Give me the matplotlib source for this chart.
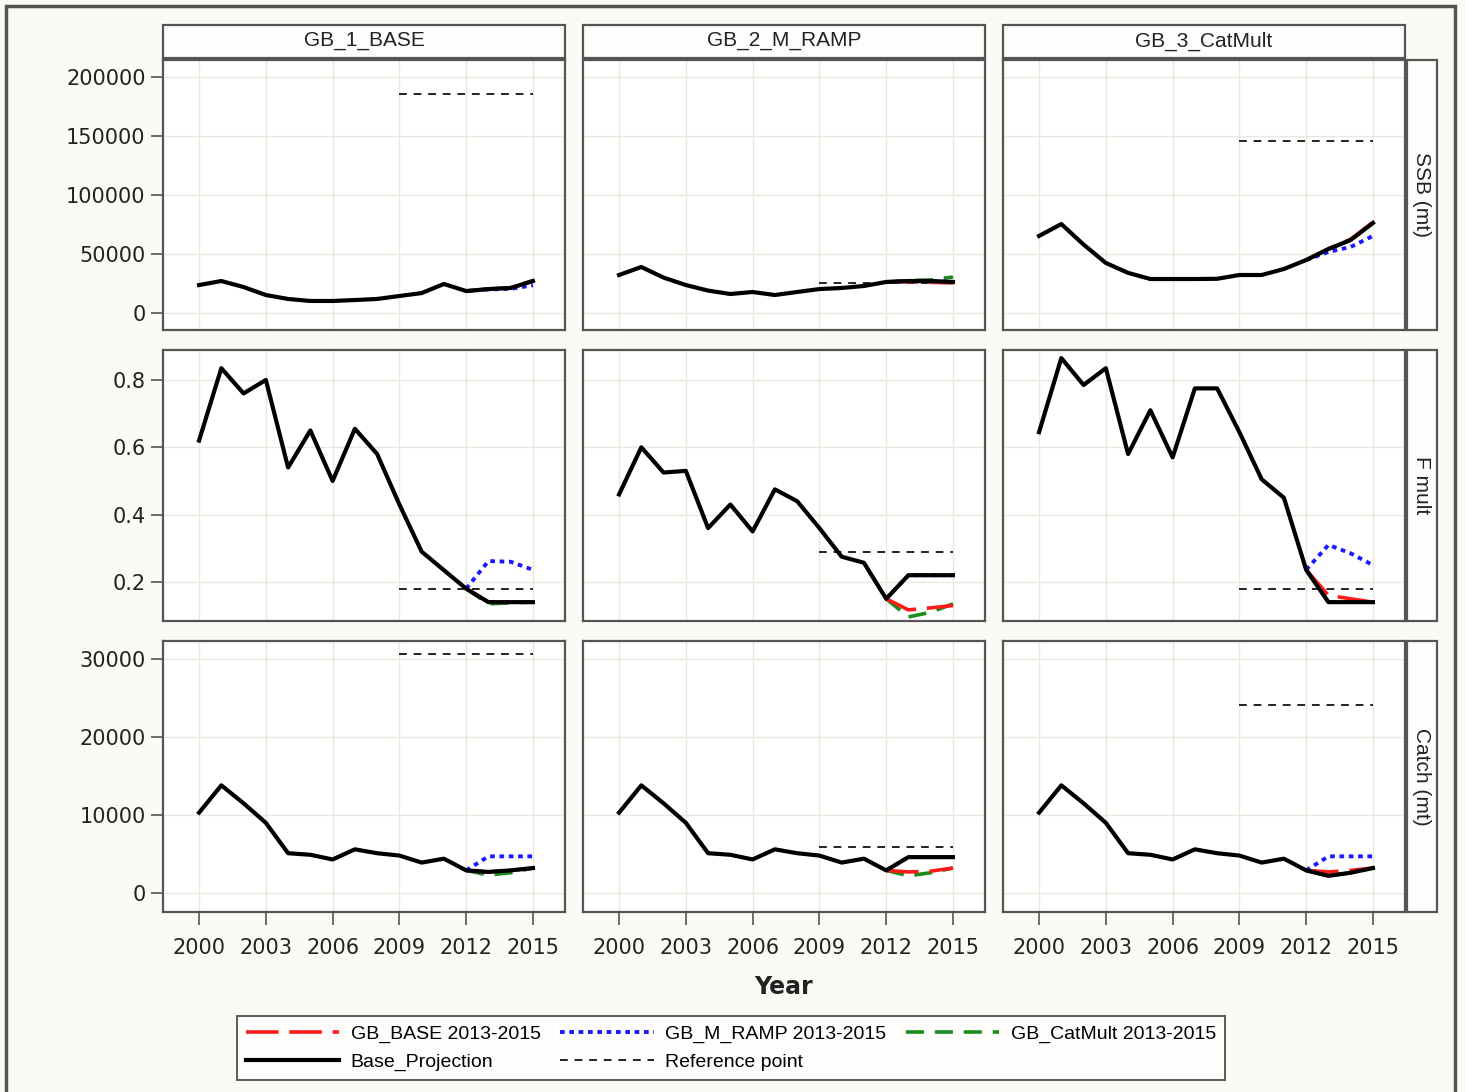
#!/usr/bin/env python3
""" Faceted SSB / F mult / Catch projections for the GB scenarios """

import matplotlib
matplotlib.use('Agg')
import matplotlib.pyplot as plt
from matplotlib.lines import Line2D
from matplotlib.patches import Rectangle

years = list(range(2000, 2016))
proj_years = [2012, 2013, 2014, 2015]
ref_years = [2009, 2015]

scenarios = ['GB_1_BASE', 'GB_2_M_RAMP', 'GB_3_CatMult']
row_labels = ['SSB (mt)', 'F mult', 'Catch (mt)']

# SSB (mt)
ssb_base = [
    [23700, 27100, 22000, 15250, 11900, 10200, 10200, 11000, 11900, 14400,
     16900, 24600, 18600, 20300, 21200, 27100],
    [32200, 39000, 30000, 23700, 19000, 16100, 17800, 15250, 17800, 20300,
     21200, 22900, 26300, 27100, 27100, 26300],
    [65300, 75400, 58000, 42400, 34000, 28800, 28800, 28800, 29000, 32200,
     32200, 37300, 44900, 54200, 61900, 76300],
]
ssb_red = [[18600, 20300, 21200, 27100], [26300, 26500, 26000, 25500],
           [44900, 54500, 62500, 77000]]
ssb_blue = [[18600, 20000, 20500, 23500], [26300, 27100, 27100, 26300],
            [44900, 51700, 56000, 65300]]
ssb_green = [[18600, 20300, 21500, 27500], [26300, 27500, 28000, 30500],
             [44900, 54200, 61900, 76300]]
ssb_ref = [185600, 25400, 145800]

# F mult
f_base = [
    [0.62, 0.835, 0.76, 0.80, 0.54, 0.65, 0.50, 0.655, 0.58, 0.43,
     0.29, 0.235, 0.18, 0.14, 0.14, 0.14],
    [0.46, 0.60, 0.525, 0.53, 0.36, 0.43, 0.35, 0.475, 0.44, 0.36,
     0.275, 0.257, 0.15, 0.22, 0.22, 0.22],
    [0.645, 0.865, 0.785, 0.835, 0.58, 0.71, 0.57, 0.775, 0.775, 0.645,
     0.505, 0.45, 0.236, 0.14, 0.14, 0.14],
]
f_red = [[0.18, 0.14, 0.14, 0.14], [0.15, 0.117, 0.123, 0.13],
         [0.236, 0.16, 0.15, 0.14]]
f_blue = [[0.18, 0.262, 0.26, 0.236], [0.15, 0.22, 0.22, 0.22],
          [0.236, 0.31, 0.285, 0.25]]
f_green = [[0.18, 0.135, 0.138, 0.14], [0.15, 0.096, 0.11, 0.135],
           [0.236, 0.14, 0.14, 0.14]]
f_ref = [0.18, 0.29, 0.18]

# Catch (mt)
catch_base = [
    [10300, 13800, 11500, 9000, 5100, 4900, 4300, 5600, 5100, 4800,
     3900, 4400, 2900, 2700, 2900, 3200],
    [10300, 13800, 11500, 9000, 5100, 4900, 4300, 5600, 5100, 4800,
     3900, 4400, 2900, 4600, 4600, 4600],
    [10300, 13800, 11500, 9000, 5100, 4900, 4300, 5600, 5100, 4800,
     3900, 4400, 2900, 2200, 2600, 3200],
]
catch_red = [[2900, 2700, 2900, 3200], [2900, 2700, 2800, 3200],
             [2900, 2700, 2900, 3200]]
catch_blue = [[2900, 4700, 4700, 4700], [2900, 4600, 4600, 4600],
              [2900, 4700, 4700, 4700]]
catch_green = [[2900, 2300, 2600, 3200], [2900, 2200, 2600, 3200],
               [2900, 2200, 2600, 3200]]
catch_ref = [30600, 5900, 24100]

rows = [
    (ssb_base, ssb_red, ssb_blue, ssb_green, ssb_ref,
     [0, 50000, 100000, 150000, 200000], (-14400, 214400)),
    (f_base, f_red, f_blue, f_green, f_ref,
     [0.2, 0.4, 0.6, 0.8], (0.084, 0.889)),
    (catch_base, catch_red, catch_blue, catch_green, catch_ref,
     [0, 10000, 20000, 30000], (-2436, 32308)),
]

BG = '#fcfaf5'
GRID = '#ebe7dc'
SPINE = '#555555'
W, H = 1465, 1092

plt.rcParams['font.family'] = ['DejaVu Sans']

fig = plt.figure(figsize=(W / 100, H / 100), dpi=100, facecolor=BG)


def box(x0, y0, x1, y1):
    """ pixel box (from top-left) to figure fraction rect """
    return [x0 / W, 1 - y1 / H, (x1 - x0) / W, (y1 - y0) / H]


col_x = [(163, 565), (583, 985), (1003, 1405)]
row_y = [(60, 330), (350, 621), (641, 912)]

red_style = dict(color='#ff1a1a', lw=2.6, dashes=(9, 3))
blue_style = dict(color='#1a1aff', lw=2.8, dashes=(1.2, 1.2))
green_style = dict(color='#1a8c1a', lw=2.6, dashes=(5, 3))
base_style = dict(color='black', lw=3.0)
ref_style = dict(color='#222222', lw=1.4, dashes=(4, 3.5))

for r, (base, red, blue, green, ref, yticks, ylim) in enumerate(rows):
    for c in range(3):
        ax = fig.add_axes(box(col_x[c][0], row_y[r][0], col_x[c][1], row_y[r][1]))
        ax.set_facecolor('white')
        ax.plot(ref_years, [ref[c], ref[c]], **ref_style)
        ax.plot(proj_years, green[c], **green_style)
        ax.plot(proj_years, red[c], **red_style)
        ax.plot(proj_years, blue[c], **blue_style)
        ax.plot(years, base[c], **base_style)
        ax.set_xlim(1998.38, 2016.44)
        ax.set_ylim(*ylim)
        ax.set_xticks(range(2000, 2016, 3))
        ax.set_yticks(yticks)
        ax.grid(True, color=GRID, lw=1)
        ax.set_axisbelow(True)
        for s in ax.spines.values():
            s.set_color(SPINE)
            s.set_linewidth(1.6)
        ax.tick_params(colors=SPINE, labelcolor='#222222', labelsize=15,
                       length=9, width=1.2)
        if c != 0:
            ax.tick_params(axis='y', left=False, labelleft=False)
        elif r == 1:
            ax.set_yticklabels(['0.2', '0.4', '0.6', '0.8'])
        if r != 2:
            ax.tick_params(axis='x', bottom=False, labelbottom=False)
        else:
            ax.tick_params(axis='x', pad=10)

# column headers
for c in range(3):
    x0, x1 = col_x[c]
    fig.patches.append(Rectangle((x0 / W, 1 - 58 / H), (x1 - x0) / W, 33 / H,
                                 transform=fig.transFigure, facecolor='#fdfdfb',
                                 edgecolor=SPINE, lw=1.6))
    fig.text((x0 + x1) / 2 / W, 1 - 41 / H, scenarios[c], ha='center',
             va='center', fontsize=15, family='Liberation Sans', color='#222222')

# row strips
for r in range(3):
    y0, y1 = row_y[r]
    fig.patches.append(Rectangle((1407 / W, 1 - y1 / H), 30 / W, (y1 - y0) / H,
                                 transform=fig.transFigure, facecolor='#fdfdfb',
                                 edgecolor=SPINE, lw=1.6))
    fig.text(1422 / W, 1 - (y0 + y1) / 2 / H, row_labels[r], rotation=270,
             ha='center', va='center', fontsize=15, family='Liberation Sans',
             color='#222222')

# outer frame
fig.patches.append(Rectangle((6 / W, -0.01), 1449 / W, 1 - 6 / H + 0.01,
                             transform=fig.transFigure, facecolor='none',
                             edgecolor='#555555', lw=2.5))

fig.text(784 / W, 1 - 987 / H, 'Year', ha='center', va='center',
         fontsize=17, fontweight='bold', color='#222222')

handles = [
    Line2D([], [], **red_style),
    Line2D([], [], **base_style),
    Line2D([], [], **blue_style),
    Line2D([], [], **ref_style),
    Line2D([], [], **green_style),
]
labels = ['GB_BASE 2013-2015', 'Base_Projection', 'GB_M_RAMP 2013-2015',
          'Reference point', 'GB_CatMult 2013-2015']
leg = fig.legend(handles, labels, ncol=3, loc='center',
                 bbox_to_anchor=(731 / W, 1 - 1048 / H), frameon=True,
                 fancybox=False, edgecolor='#333333', facecolor='white',
                 prop={'family': 'Liberation Sans', 'size': 14},
                 handlelength=4.8, columnspacing=1.0, labelspacing=0.55,
                 borderpad=0.45, handletextpad=0.6)
leg.get_frame().set_linewidth(1.4)

fig.savefig('out.png', dpi=100, facecolor=BG)
